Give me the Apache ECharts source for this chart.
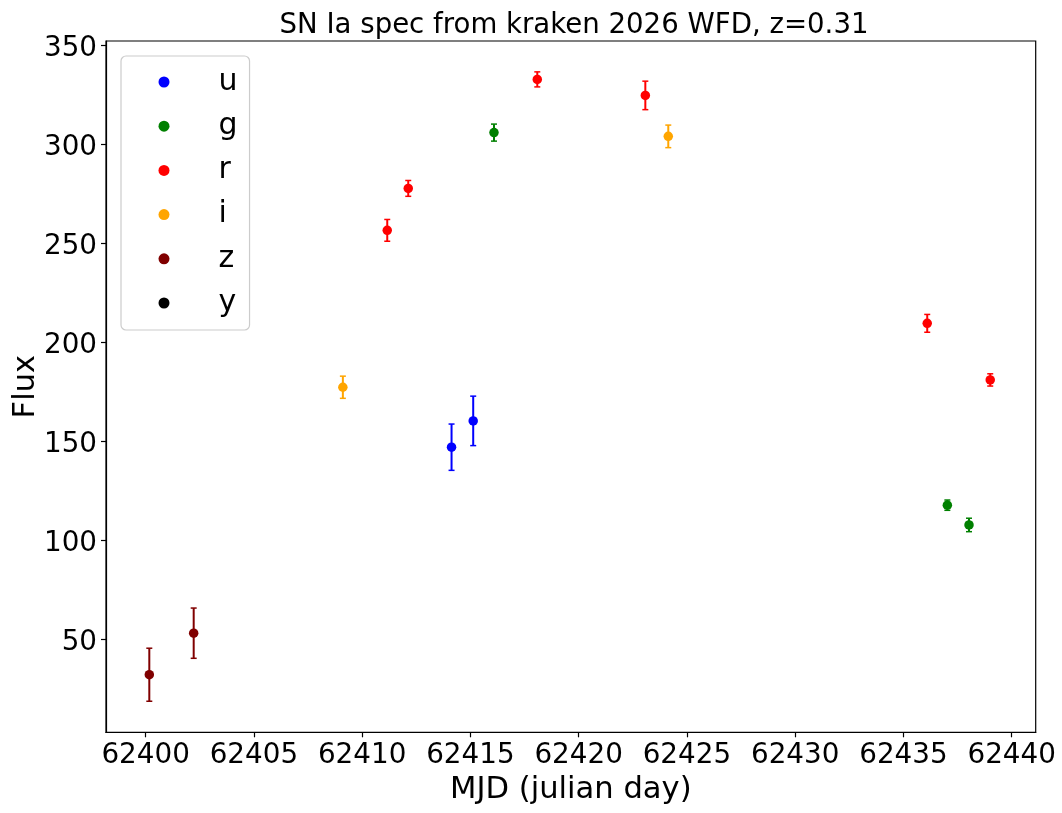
<!DOCTYPE html>
<html>
<head>
<meta charset="UTF-8">
<title>SN Ia light curve</title>
<script src="https://cdn.jsdelivr.net/npm/echarts@6/dist/echarts.min.js"></script>
<style>
  html, body { margin: 0; padding: 0; background: #fff; }
  #main { width: 1062px; height: 813px; }
</style>
</head>
<body>
<div id="main"></div>
<script>
// bands and their colours
var bands = ['u', 'g', 'r', 'i', 'z', 'y'];
var colors = ['#0000ff', '#008000', '#ff0000', '#ffa500', '#800000', '#000000'];

// observations per band: MJD, flux, flux error
var mjd = {
  u: [62414.13, 62415.13],
  g: [62416.09, 62437.03, 62438.03],
  r: [62411.16, 62412.13, 62418.09, 62423.08, 62436.10, 62439.01],
  i: [62409.11, 62424.14],
  z: [62400.17, 62402.22],
  y: []
};
var flux = {
  u: [147.1, 160.4],
  g: [306.1, 117.8, 107.8],
  r: [256.7, 277.9, 333.0, 324.9, 209.7, 181.1],
  i: [177.4, 304.2],
  z: [32.1, 53.1],
  y: []
};
var fluxErr = {
  u: [11.7, 12.5],
  g: [4.3, 2.6, 3.4],
  r: [5.5, 4.0, 3.8, 7.2, 4.5, 3.1],
  i: [5.6, 5.7],
  z: [13.4, 12.7],
  y: []
};

var FONT = 'DejaVu Sans';

function renderErr(params, api) {
  var x = api.value(0);
  var top = api.coord([x, api.value(2)]);
  var bot = api.coord([x, api.value(1)]);
  var c = api.visual('color');
  var w = 3;
  return {
    type: 'group',
    children: [
      { type: 'line', shape: { x1: top[0], y1: top[1], x2: bot[0], y2: bot[1] }, style: { stroke: c, lineWidth: 2 } },
      { type: 'line', shape: { x1: top[0] - w, y1: top[1], x2: top[0] + w, y2: top[1] }, style: { stroke: c, lineWidth: 1.5 } },
      { type: 'line', shape: { x1: bot[0] - w, y1: bot[1], x2: bot[0] + w, y2: bot[1] }, style: { stroke: c, lineWidth: 1.5 } }
    ]
  };
}

var series = [];
bands.forEach(function (b, k) {
  var pts = [], errs = [];
  for (var i = 0; i < mjd[b].length; i++) {
    pts.push([mjd[b][i], flux[b][i]]);
    errs.push([mjd[b][i], flux[b][i] - fluxErr[b][i], flux[b][i] + fluxErr[b][i]]);
  }
  series.push({
    name: b, type: 'scatter', data: pts, symbol: 'circle', symbolSize: 9.5,
    itemStyle: { color: colors[k], opacity: 1 }, z: 3
  });
  series.push({
    name: b, type: 'custom', data: errs, renderItem: renderErr,
    encode: { x: 0, y: [1, 2] }, itemStyle: { color: colors[k] }, z: 2
  });
});

var chart = echarts.init(document.getElementById('main'));
chart.setOption({
  animation: false,
  backgroundColor: '#fff',
  textStyle: { fontFamily: FONT },
  title: {
    text: 'SN Ia spec from kraken 2026 WFD, z=0.31',
    left: 569, top: 7, textAlign: 'center',
    textStyle: { fontFamily: FONT, fontSize: 27.6, fontWeight: 'normal', color: '#000' }
  },
  grid: {
    left: 106, right: 26.3, top: 41, bottom: 80.7,
    outerBoundsMode: 'none', containLabel: false,
    show: true, borderColor: '#000', borderWidth: 1.2
  },
  legend: {
    data: bands.map(function (b) { return { name: b, icon: 'circle' }; }),
    orient: 'vertical', left: 121, top: 56,
    itemWidth: 11, itemHeight: 11, itemGap: 10.2,
    padding: [9, 12, 10, 37.5],
    borderColor: '#cccccc', borderWidth: 1.2, borderRadius: 5,
    backgroundColor: '#fff',
    textStyle: { fontFamily: FONT, fontSize: 30, color: '#000', lineHeight: 34, padding: [0, 0, 0, 44] }
  },
  xAxis: {
    type: 'value', min: 62398.17, max: 62441.11, splitNumber: 9,
    name: 'MJD (julian day)', nameLocation: 'middle', nameGap: 38,
    nameTextStyle: { fontFamily: FONT, fontSize: 30.6, color: '#000' },
    axisLine: { lineStyle: { color: '#000', width: 1.2 } },
    axisTick: { length: 5, lineStyle: { color: '#000', width: 1.2 } },
    axisLabel: {
      fontFamily: FONT, fontSize: 27.8, color: '#000', margin: 9,
      showMinLabel: false, showMaxLabel: false,
      formatter: function (v) { return String(v); }
    },
    splitLine: { show: false }
  },
  yAxis: {
    type: 'value', min: 3.0, max: 352.4, splitNumber: 7,
    name: 'Flux', nameLocation: 'middle', nameGap: 64, nameMoveOverlap: false,
    nameTextStyle: { fontFamily: FONT, fontSize: 30.6, color: '#000' },
    axisLine: { lineStyle: { color: '#000', width: 1.2 } },
    axisTick: { length: 5, lineStyle: { color: '#000', width: 1.2 } },
    axisLabel: {
      fontFamily: FONT, fontSize: 27.8, color: '#000', margin: 9,
      showMinLabel: false, showMaxLabel: false,
      formatter: function (v) { return '{t|' + v + '}'; },
      rich: { t: { fontFamily: FONT, fontSize: 27.8, color: '#000', padding: [7, 0, 0, 0] } }
    },
    splitLine: { show: false }
  },
  series: series
});
</script>
</body>
</html>
